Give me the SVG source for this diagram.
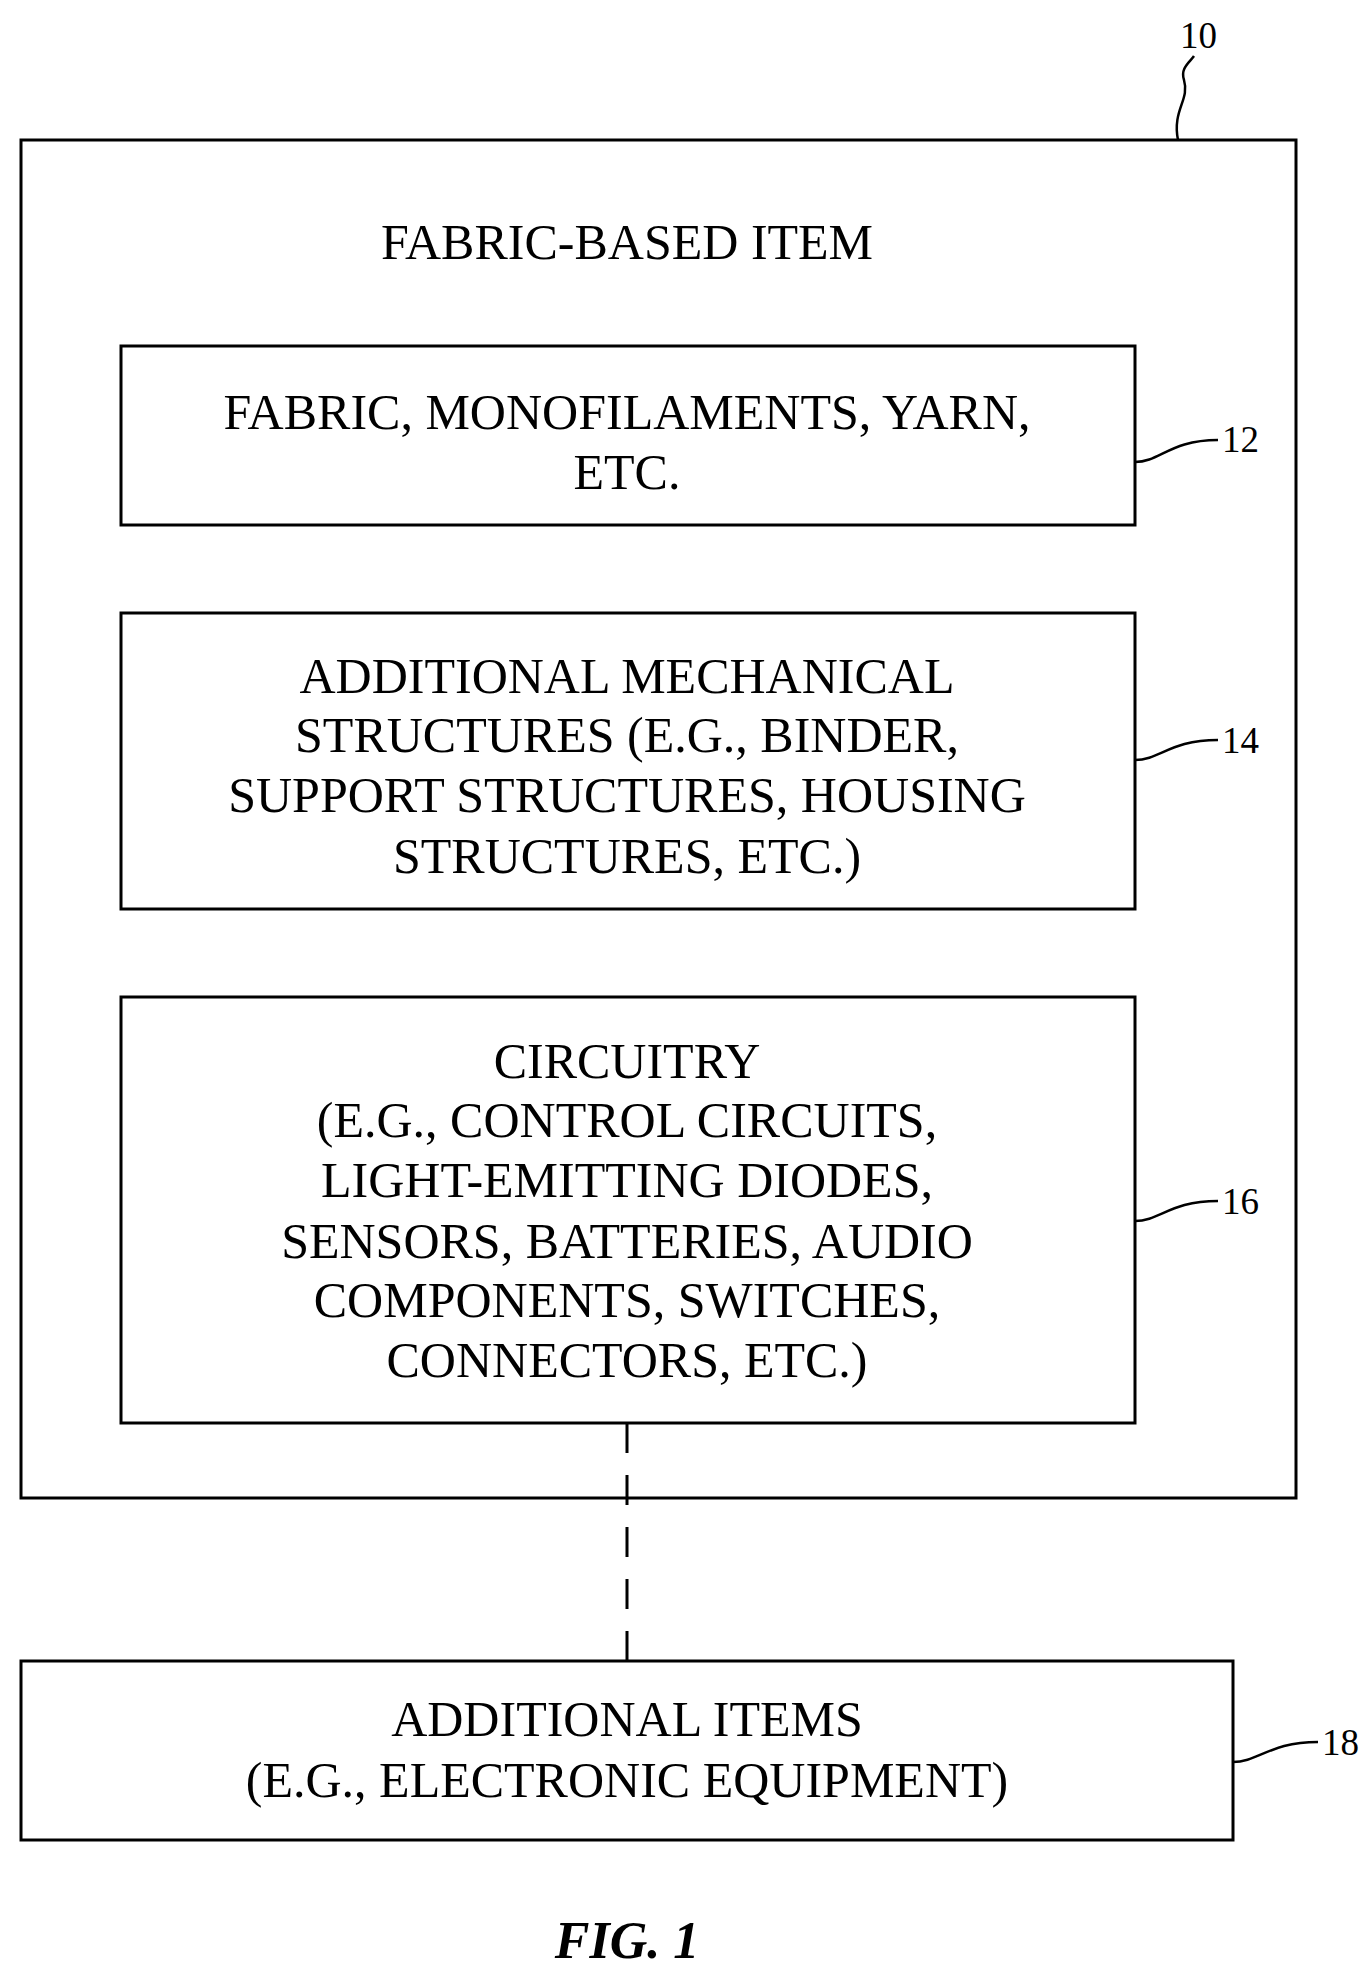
<svg xmlns="http://www.w3.org/2000/svg" width="1368" height="1969" viewBox="0 0 1368 1969">
<style>
rect{fill:none;stroke:#000;stroke-width:3}
text{font-family:"Liberation Serif",serif;font-size:50px;text-anchor:middle;fill:#000}
.ref{font-size:37px;text-anchor:start}
.ld{fill:none;stroke:#000;stroke-width:2.5}
</style>
<rect width="1368" height="1969" style="fill:#fff;stroke:none"/>
<g id="n10"><rect x="21" y="140" width="1275" height="1358"/><text x="627" y="259">FABRIC-BASED ITEM</text><text class="ref" x="1180" y="48">10</text></g>
<g id="n12"><rect x="121" y="346" width="1014" height="179"/><text x="627" y="429">FABRIC, MONOFILAMENTS, YARN,</text><text x="627" y="489">ETC.</text><text class="ref" x="1222" y="452">12</text></g>
<g id="n14"><rect x="121" y="613" width="1014" height="296"/><text x="627" y="693">ADDITIONAL MECHANICAL</text><text x="627" y="752">STRUCTURES (E.G., BINDER,</text><text x="627" y="812">SUPPORT STRUCTURES, HOUSING</text><text x="627" y="873">STRUCTURES, ETC.)</text><text class="ref" x="1222" y="753">14</text></g>
<g id="n16"><rect x="121" y="997" width="1014" height="426"/><text x="627" y="1078">CIRCUITRY</text><text x="627" y="1137">(E.G., CONTROL CIRCUITS,</text><text x="627" y="1197">LIGHT-EMITTING DIODES,</text><text x="627" y="1258">SENSORS, BATTERIES, AUDIO</text><text x="627" y="1317">COMPONENTS, SWITCHES,</text><text x="627" y="1377">CONNECTORS, ETC.)</text><text class="ref" x="1222" y="1214">16</text></g>
<g id="n18"><rect x="21" y="1661" width="1212" height="179"/><text x="627" y="1736">ADDITIONAL ITEMS</text><text x="627" y="1797">(E.G., ELECTRONIC EQUIPMENT)</text><text class="ref" x="1322" y="1755">18</text></g>
<g id="connectors">
<line x1="627" y1="1423" x2="627" y2="1661" stroke="#000" stroke-width="3" stroke-dasharray="30,22"/>
<path class="ld" d="M1178 140 C1172 110 1190 100 1184 80 C1180 68 1190 62 1194 56"/>
<path class="ld" d="M1135 462 C1160 462 1170 440 1218 440"/>
<path class="ld" d="M1135 760 C1160 760 1170 740 1218 740"/>
<path class="ld" d="M1135 1221 C1160 1221 1170 1201 1218 1201"/>
<path class="ld" d="M1233 1762 C1258 1762 1270 1742 1318 1742"/>
</g>
<text x="627" y="1958" style="font-style:italic;font-weight:bold;font-size:52px">FIG. 1</text>
</svg>
